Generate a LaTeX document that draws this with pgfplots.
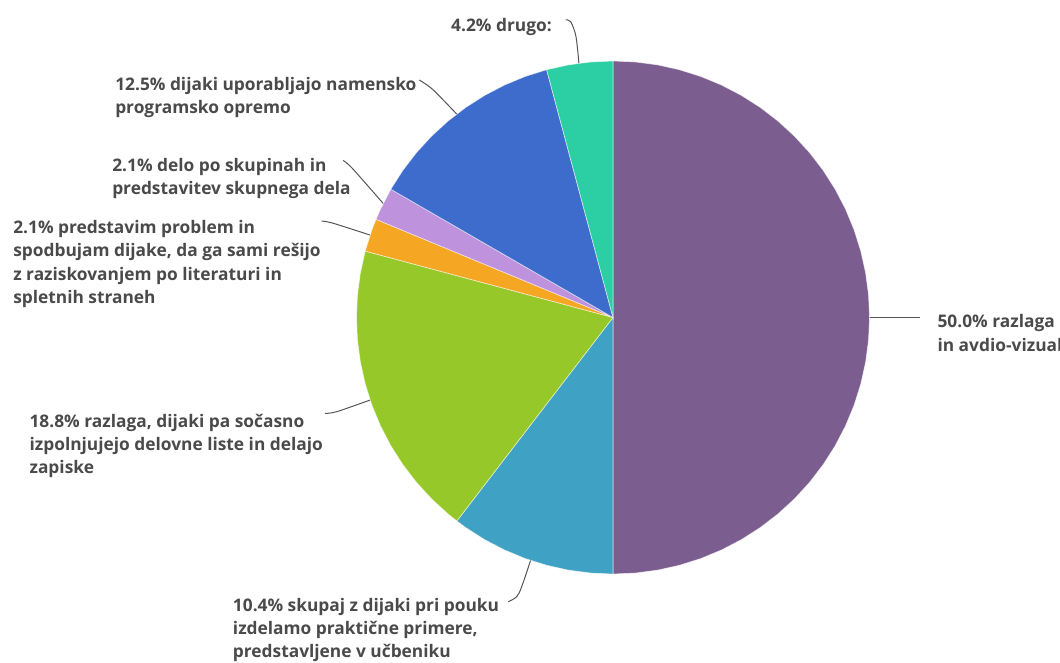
\documentclass[border=0pt]{standalone}
\usepackage{fontspec}
\setmainfont{Open Sans}
\usepackage{pgfplots}
\pgfplotsset{compat=1.18}
\definecolor{cPurple}{HTML}{7B5E8F}
\definecolor{cTeal}{HTML}{3FA1C3}
\definecolor{cGreen}{HTML}{97C829}
\definecolor{cOrange}{HTML}{F5A623}
\definecolor{cLav}{HTML}{BF92DD}
\definecolor{cBlue}{HTML}{3D6CCD}
\definecolor{cMint}{HTML}{2BCFA3}
\definecolor{txt}{HTML}{4A4A4A}
\definecolor{lead}{HTML}{555555}
\tikzset{lbl/.style={font=\fontsize{13}{17}\selectfont\bfseries, text=txt, inner sep=0pt, anchor=base west}}
\pgfplotsset{
  slice/.style={draw=white, draw opacity=0.6, line width=0.5pt, data cs=polar, mark=none},
  leader/.style={draw=lead, line width=0.75pt, smooth, mark=none},
}
\begin{document}
\begin{tikzpicture}
\path[use as bounding box] (0,0) rectangle (795pt,496.5pt);
\clip (0,0) rectangle (795pt,496.5pt);
\begin{axis}[
  x=0.75pt, y=0.75pt,
  xmin=-613, xmax=447, ymin=-344.5, ymax=317.5,
  hide axis, clip=false,
]
% leader lines
\addplot[leader] coordinates {(-47.3,297.5) (-42.3,295.8) (-37,280.8) (-33.7,250)};
\addplot[leader] coordinates {(-193.7,237.5) (-179.7,227.5) (-154,201)};
\addplot[leader] coordinates {(-270,157) (-261,149.5) (-228,112)};
\addplot[leader] coordinates {(-291.3,96.5) (-279.7,94.2) (-240,81.5)};
\addplot[leader] coordinates {(-288,-95.8) (-276.3,-94.2) (-240,-81.5)};
\addplot[leader] coordinates {(-104.7,-284.2) (-96.3,-279.2) (-91.3,-269.2) (-81.5,-240)};
\addplot[leader] coordinates {(250,0) (307,0)};
% slices (angle, radius)
\addplot[slice, fill=cPurple] coordinates {(0,0) (90,256.5) (85,256.5) (80,256.5) (75,256.5) (70,256.5) (65,256.5) (60,256.5) (55,256.5) (50,256.5) (45,256.5) (40,256.5) (35,256.5) (30,256.5) (25,256.5) (20,256.5) (15,256.5) (10,256.5) (5,256.5) (0,256.5) (-5,256.5) (-10,256.5) (-15,256.5) (-20,256.5) (-25,256.5) (-30,256.5) (-35,256.5) (-40,256.5) (-45,256.5) (-50,256.5) (-55,256.5) (-60,256.5) (-65,256.5) (-70,256.5) (-75,256.5) (-80,256.5) (-85,256.5) (-90,256.5) (0,0)} -- cycle;
\addplot[slice, fill=cTeal] coordinates {(0,0) (-90,256.5) (-95,256.5) (-100,256.5) (-105,256.5) (-110,256.5) (-115,256.5) (-120,256.5) (-125,256.5) (-127.5,256.5) (0,0)} -- cycle;
\addplot[slice, fill=cGreen] coordinates {(0,0) (232.5,256.5) (230,256.5) (225,256.5) (220,256.5) (215,256.5) (210,256.5) (205,256.5) (200,256.5) (195,256.5) (190,256.5) (185,256.5) (180,256.5) (175,256.5) (170,256.5) (165,256.5) (0,0)} -- cycle;
\addplot[slice, fill=cOrange] coordinates {(0,0) (165,256.5) (160,256.5) (157.5,256.5) (0,0)} -- cycle;
\addplot[slice, fill=cLav] coordinates {(0,0) (157.5,256.5) (155,256.5) (150,256.5) (0,0)} -- cycle;
\addplot[slice, fill=cBlue] coordinates {(0,0) (150,256.5) (145,256.5) (140,256.5) (135,256.5) (130,256.5) (125,256.5) (120,256.5) (115,256.5) (110,256.5) (105,256.5) (0,0)} -- cycle;
\addplot[slice, fill=cMint] coordinates {(0,0) (105,256.5) (100,256.5) (95,256.5) (90,256.5) (0,0)} -- cycle;
% labels
\node[lbl, anchor=base east] at (axis cs:-61,285.5) {4.2\% drugo:};
\node[lbl] at (axis cs:-498,226.5) {12.5\% dijaki uporabljajo namensko};
\node[lbl] at (axis cs:-498,203.5) {programsko opremo};
\node[lbl] at (axis cs:-501,146.5) {2.1\% delo po skupinah in};
\node[lbl] at (axis cs:-501,123.5) {predstavitev skupnega dela};
\node[lbl] at (axis cs:-600,84.5) {2.1\% predstavim problem in};
\node[lbl] at (axis cs:-600,61) {spodbujam dijake, da ga sami rešijo};
\node[lbl] at (axis cs:-600,37.5) {z raziskovanjem po literaturi in};
\node[lbl] at (axis cs:-600,14.5) {spletnih straneh};
\node[lbl] at (axis cs:-583.7,-109.5) {18.8\% razlaga, dijaki pa sočasno};
\node[lbl] at (axis cs:-583.7,-132.5) {izpolnjujejo delovne liste in delajo};
\node[lbl] at (axis cs:-583.7,-155.5) {zapiske};
\node[lbl] at (axis cs:-380.3,-294.2) {10.4\% skupaj z dijaki pri pouku};
\node[lbl] at (axis cs:-380.3,-317) {izdelamo praktične primere,};
\node[lbl] at (axis cs:-380.3,-339.5) {predstavljene v učbeniku};
\node[lbl] at (axis cs:324.3,-9.5) {50.0\% razlaga};
\node[lbl] at (axis cs:324.3,-33.5) {in avdio-vizualnimi pripomočki};
\end{axis}
\end{tikzpicture}
\end{document}
